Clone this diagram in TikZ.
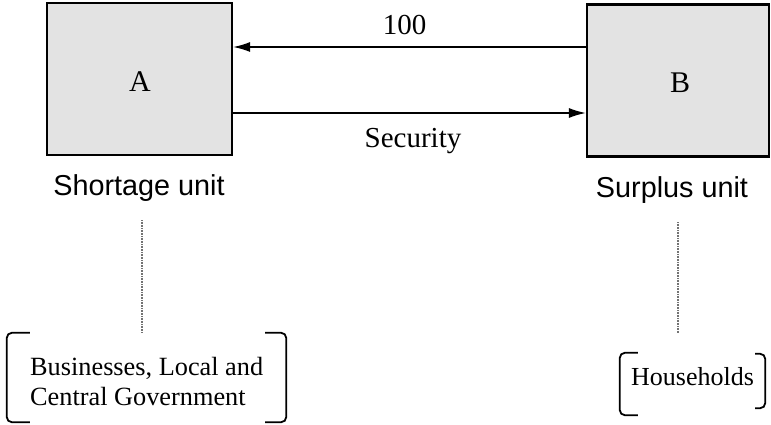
\documentclass[tikz,border=0pt]{standalone}
\usepackage{fontspec}
\setmainfont{Liberation Serif}
\setsansfont{Liberation Sans}
\usetikzlibrary{arrows.meta}
\begin{document}
\begin{tikzpicture}[x=1pt,y=-1pt,
  unitbox/.style={draw=black, line width=2.2pt, fill=black!11, minimum width=#1, minimum height=152pt, inner sep=0pt},
  flow/.style={line width=1.5pt, -{Latex[length=17pt,width=10pt]}},
  serif28/.style={font=\fontsize{29}{30}\selectfont, inner sep=0pt},
  sans29/.style={font=\sffamily\fontsize{28.8}{30}\selectfont, inner sep=0pt, anchor=base},
  dotline/.style={draw=black!55, line width=1.5pt, dash pattern=on 1pt off 0.6pt},
  brk/.style={line width=1.8pt, rounded corners=5pt},
  frame/.style={inner sep=0pt, minimum width=#1}
]
\useasboundingbox (0,0) rectangle (771,425);
% boxes
\node[unitbox=185pt] (A) at (139.5,79) {};
\node[unitbox=182pt] (B) at (678,80.5) {};
\node[serif28, font=\fontsize{30}{30}\selectfont, anchor=base] (Alab) at (140,92) {A};
\node[serif28, font=\fontsize{30}{30}\selectfont, anchor=base] (Blab) at (680,93) {B};
% arrows
\draw[flow] (B.west |- 0,47) -- (A.east |- 0,47);
\draw[flow] (A.east |- 0,113) -- (B.west |- 0,113);
\node[serif28, anchor=base] (money) at (404.5,35) {100};
\node[serif28, anchor=base] (sec) at (413,148) {Security};
% unit labels
\node[sans29] (short) at (139,195) {Shortage unit};
\node[sans29] (surp) at (672,197) {Surplus unit};
% bracket frames
\node[frame=279pt, minimum height=89pt] (bus) at (146.5,377.5) {};
\node[frame=145pt, minimum height=56pt] (hh) at (692.5,382) {};
% bracket texts
\node[font=\fontsize{26.3}{30}\selectfont, inner sep=0pt, anchor=base west, align=left] (bustext) at (30,375) {Businesses, Local and};
\node[font=\fontsize{26.3}{30}\selectfont, inner sep=0pt, anchor=base west, align=left] (bustext2) at (30,405) {Central Government};
\node[font=\fontsize{26}{30}\selectfont, inner sep=0pt, anchor=base] (hhtext) at (692.5,385) {Households};
% brackets
\draw[brk] ([xshift=23pt]bus.north west) -- (bus.north west) -- (bus.south west) -- ([xshift=23pt]bus.south west);
\draw[brk] ([xshift=-21pt]bus.north east) -- (bus.north east) -- (bus.south east) -- ([xshift=-21pt]bus.south east);
\draw[brk] ([xshift=18pt,yshift=1pt]hh.north west) -- ([yshift=1pt]hh.north west) -- ([yshift=-5pt]hh.south west) -- ([xshift=18pt,yshift=-5pt]hh.south west);
\draw[brk] ([xshift=-10pt]hh.north east) -- (hh.north east) -- ([yshift=2pt]hh.south east) -- ([xshift=-10pt,yshift=2pt]hh.south east);
% dotted links
\coordinate (d1) at (142,220);
\coordinate (d2) at (678,222);
\draw[dotline] (d1) -- (d1 |- bus.north);
\draw[dotline] (d2) -- (d2 |- 0,333);
\end{tikzpicture}
\end{document}
